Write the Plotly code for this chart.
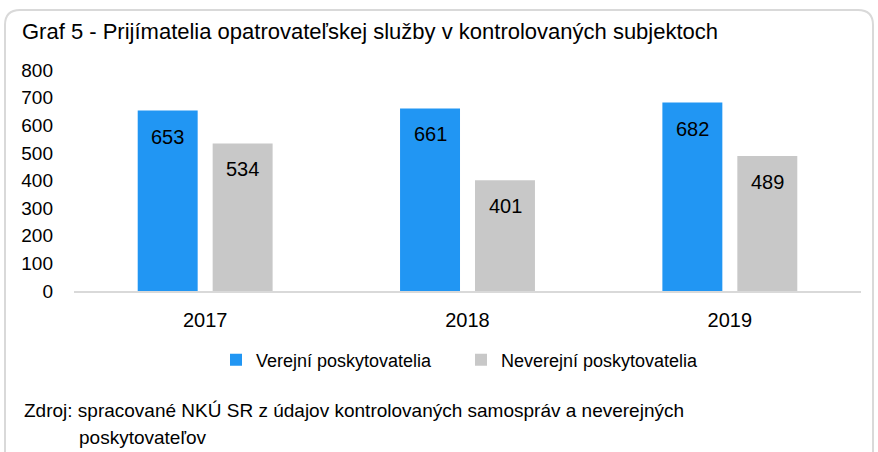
import plotly.graph_objects as go

years = ["2017", "2018", "2019"]
verejni = [653, 661, 682]
neverejni = [534, 401, 489]
series_names = ["Verejní poskytovatelia", "Neverejní poskytovatelia"]
title_text = "Graf 5 - Prijímatelia opatrovateľskej služby v kontrolovaných subjektoch"
source_line1 = "Zdroj: spracované NKÚ SR z údajov kontrolovaných samospráv a neverejných"
source_line2 = "poskytovateľov"

FONT = "Liberation Sans, Arial, sans-serif"
W, H = 878, 452
L, R, T, B = 74, 17, 70, 161
pw, ph = W - L - R, H - T - B

def px(x):
    return (x - L) / pw

def py(y):
    return (H - B - y) / ph

fig = go.Figure()
fig.add_trace(go.Bar(x=years, y=verejni, name=series_names[0],
                     marker=dict(color="#2196F3", line=dict(width=0))))
fig.add_trace(go.Bar(x=years, y=neverejni, name=series_names[1],
                     marker=dict(color="#C8C8C8", line=dict(width=0))))

annotations = []
for vals, shift in ((verejni, -37.5), (neverejni, 37.5)):
    for i, v in enumerate(vals):
        annotations.append(dict(x=i, y=v, xref="x", yref="y", text=str(v),
                                showarrow=False, xshift=shift, yshift=-26,
                                font=dict(family=FONT, size=20, color="#000000")))

annotations.append(dict(xref="paper", yref="paper", x=px(22), y=py(411),
                        xanchor="left", yanchor="middle", text=source_line1,
                        showarrow=False, font=dict(family=FONT, size=19, color="#000000")))
annotations.append(dict(xref="paper", yref="paper", x=px(77), y=py(437),
                        xanchor="left", yanchor="middle", text=source_line2,
                        showarrow=False, font=dict(family=FONT, size=19, color="#000000")))

# rounded border
x0, x1, y0, y1, r = px(5), px(873), py(10), py(470), 15
rx, ry = r / pw, r / ph
path = (f"M {x0} {y1} L {x0} {y0 - ry} Q {x0} {y0} {x0 + rx} {y0} "
        f"L {x1 - rx} {y0} Q {x1} {y0} {x1} {y0 - ry} L {x1} {y1}")

fig.update_layout(
    width=W, height=H,
    margin=dict(l=L, r=R, t=T, b=B, pad=0),
    paper_bgcolor="white", plot_bgcolor="white",
    font=dict(family=FONT, size=19, color="#000000"),
    title=dict(text=title_text, x=22 / W, xanchor="left", xref="container",
               y=1 - 31 / H, yanchor="middle", yref="container",
               font=dict(family=FONT, size=22, color="#000000")),
    barmode="group", bargap=0.4286, bargroupgap=0.2,
    xaxis=dict(type="category", range=[-0.5, 2.5], showline=True, linecolor="#D9D9D9",
               linewidth=2, showgrid=False, ticks="", ticklabelstandoff=10,
               tickfont=dict(family=FONT, size=20, color="#000000")),
    yaxis=dict(range=[0, 800], dtick=100, tick0=0, showline=False, showgrid=False,
               zeroline=False, ticks="", ticklabelstandoff=20,
               tickfont=dict(family=FONT, size=19, color="#000000")),
    legend=dict(orientation="h", x=px(216), y=py(360), xanchor="left", yanchor="middle",
                entrywidth=200, entrywidthmode="pixels", itemwidth=30,
                font=dict(family=FONT, size=18, color="#000000"), bgcolor="rgba(0,0,0,0)"),
    annotations=annotations,
    shapes=[dict(type="path", xref="paper", yref="paper", path=path,
                 line=dict(color="#D9D9D9", width=2), layer="below")],
)

fig.write_html("out.html", config={"displayModeBar": False},
               post_script="document.body.style.margin='0px';document.body.style.overflow='hidden';")
